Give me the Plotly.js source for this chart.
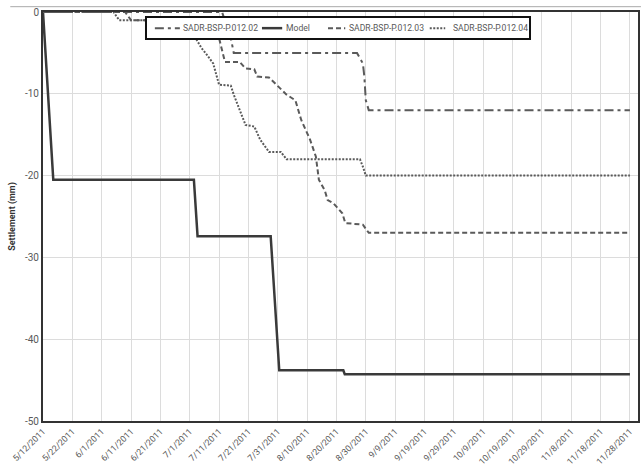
<!DOCTYPE html>
<html><head><meta charset="utf-8">
<script src="https://cdn.plot.ly/plotly-3.0.1.min.js"></script>
<style>html,body{margin:0;padding:0;background:#fff}#chart{width:641px;height:470px}</style>
</head><body><div id="chart"></div>
<script>
const tickDates = ['2011-05-12','2011-05-22','2011-06-01','2011-06-11','2011-06-21','2011-07-01','2011-07-11','2011-07-21','2011-07-31','2011-08-10','2011-08-20','2011-08-30','2011-09-09','2011-09-19','2011-09-29','2011-10-09','2011-10-19','2011-10-29','2011-11-08','2011-11-18','2011-11-28'];
const tickLabels = ['5/12/2011','5/22/2011','6/1/2011','6/11/2011','6/21/2011','7/1/2011','7/11/2011','7/21/2011','7/31/2011','8/10/2011','8/20/2011','8/30/2011','9/9/2011','9/19/2011','9/29/2011','10/9/2011','10/19/2011','10/29/2011','11/8/2011','11/18/2011','11/28/2011'];
const yTickVals = [-50, -40, -30, -20, -10, 0];
const yTickLabels = ['-50', '-40', '-30', '-20', '-10', '0'];
const seriesNames = ['SADR-BSP-P.012.02', 'Model', 'SADR-BSP-P.012.03', 'SADR-BSP-P.012.04'];

const p02Dates = ['2011-05-12','2011-07-12','2011-07-15','2011-07-16','2011-08-27','2011-08-29','2011-08-29 12:00','2011-08-30','2011-08-31','2011-11-28'];
const p02Vals  = [0, 0, -3.2, -5, -5, -6.3, -7.9, -10.8, -12, -12];

const modelDates = ['2011-05-12','2011-05-15 12:00','2011-07-02 10:00','2011-07-03 16:00','2011-07-28 14:00','2011-07-31 12:00','2011-08-22 08:00','2011-08-22 20:00','2011-11-28'];
const modelVals  = [0, -20.5, -20.5, -27.4, -27.4, -43.8, -43.8, -44.3, -44.3];

const p03Dates = ['2011-05-12','2011-06-09','2011-06-11','2011-07-08','2011-07-11','2011-07-13','2011-07-18','2011-07-20','2011-07-23','2011-07-24','2011-07-28','2011-07-31','2011-08-03','2011-08-06','2011-08-08','2011-08-11','2011-08-13','2011-08-14','2011-08-16','2011-08-17','2011-08-19','2011-08-20','2011-08-22','2011-08-23','2011-08-29','2011-08-31','2011-11-28'];
const p03Vals  = [0, 0, -1, -1, -3.2, -6.1, -6.1, -6.9, -7, -7.9, -8, -9.1, -10.1, -10.8, -13.2, -15.6, -17.7, -20.5, -21.8, -23, -23.4, -23.8, -24.6, -25.8, -26, -27, -27];

const p04Dates = ['2011-05-12','2011-06-05','2011-06-07','2011-06-16','2011-07-01','2011-07-03','2011-07-05','2011-07-07','2011-07-09','2011-07-11','2011-07-15','2011-07-16','2011-07-18','2011-07-20','2011-07-23','2011-07-25','2011-07-28','2011-08-01','2011-08-03','2011-08-28','2011-08-29','2011-08-30','2011-11-28'];
const p04Vals  = [0, 0, -1, -1, -2, -3.2, -4.4, -5.3, -6.3, -8.9, -9, -10.1, -12, -13.8, -14, -15.6, -17.1, -17.1, -18, -18, -18.9, -20, -20];

const fontFam = 'Roboto, "Liberation Sans", sans-serif';
const styles = [
  {color: '#5a5a5a', width: 2, dash: '9px,4px,3px,4px'},
  {color: '#3a3a3a', width: 2.5, dash: 'solid'},
  {color: '#5a5a5a', width: 2, dash: '5px,3px'},
  {color: '#5a5a5a', width: 2, dash: '2px,1.5px'}
];
const xs = [p02Dates, modelDates, p03Dates, p04Dates];
const ys = [p02Vals, modelVals, p03Vals, p04Vals];
const traces = xs.map((x, i) => ({x: x, y: ys[i], name: seriesNames[i], mode: 'lines', line: styles[i]}));

// legend drawn as a boxed row (paper coordinates of the plot area)
const legSym = [[0.188, 0.230], [0.368, 0.402], [0.479, 0.508], [0.650, 0.676]];
const legTxt = [0.2325, 0.4045, 0.5105, 0.6865];
const legY = 0.9605;
const shapes = [
  {type: 'line', xref: 'paper', yref: 'paper', x0: -0.055, x1: 1.005, y0: 1.013, y1: 1.013, line: {color: '#aaa', width: 1}},
  {type: 'rect', xref: 'paper', yref: 'paper', x0: 0.1731, x1: 0.8185, y0: 0.934, y1: 0.9878, fillcolor: '#fff', line: {color: '#111', width: 2}, layer: 'above'}
];
legSym.forEach((s, i) => shapes.push({type: 'line', xref: 'paper', yref: 'paper', x0: s[0], x1: s[1], y0: legY, y1: legY, line: styles[i], layer: 'above'}));
const annotations = seriesNames.map((n, i) => ({text: n, xref: 'paper', yref: 'paper', x: legTxt[i], y: legY, xanchor: 'left', yanchor: 'middle', showarrow: false, font: {family: fontFam, size: 8.6, color: '#595959'}}));

const layout = {
  width: 641, height: 470,
  margin: {l: 43, r: 3, t: 12, b: 49},
  paper_bgcolor: '#fff', plot_bgcolor: '#fff',
  font: {family: fontFam, size: 10, color: '#595959'},
  showlegend: false,
  xaxis: {type: 'date', range: ['2011-05-12', '2011-11-30 18:00'],
    tickmode: 'array', tickvals: tickDates, ticktext: tickLabels, tickangle: -45,
    tickfont: {size: 8.8, color: '#595959'}, showgrid: true, gridcolor: '#dcdcdc', gridwidth: 1,
    showline: true, mirror: true, linecolor: '#333', linewidth: 2, ticks: '', zeroline: false},
  yaxis: {range: [-50, 0], tickmode: 'array', tickvals: yTickVals, ticktext: yTickLabels,
    tickfont: {size: 10, color: '#595959'}, showgrid: true, gridcolor: '#dcdcdc', gridwidth: 1,
    showline: true, mirror: true, linecolor: '#333', linewidth: 2, ticks: '', zeroline: false,
    title: {text: '<b>Settlement (mm)</b>', font: {size: 9, color: '#333'}, standoff: 8}},
  shapes: shapes,
  annotations: annotations
};
Plotly.newPlot('chart', traces, layout, {displayModeBar: false, staticPlot: true});
</script></body></html>
